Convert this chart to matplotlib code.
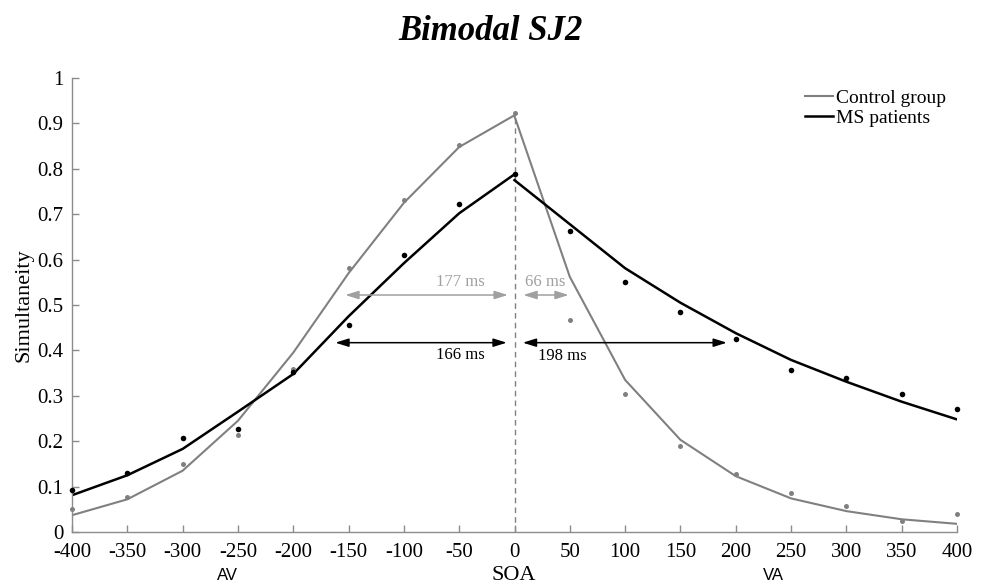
import matplotlib
matplotlib.use("Agg")
import matplotlib.pyplot as plt
import numpy as np

# ---- data ----
soa = [-400, -350, -300, -250, -200, -150, -100, -50, 0, 50, 100, 150, 200, 250, 300, 350, 400]
control_obs = [0.050, 0.077, 0.150, 0.213, 0.360, 0.582, 0.731, 0.852, 0.922,
               0.468, 0.303, 0.189, 0.128, 0.085, 0.058, 0.025, 0.040]
ms_obs = [0.092, 0.131, 0.206, 0.226, 0.352, 0.456, 0.610, 0.722, 0.789,
          0.664, 0.550, 0.484, 0.426, 0.357, 0.340, 0.305, 0.270]

soa_left = [-400, -350, -300, -250, -200, -150, -100, -50, 0]
soa_right = [0, 50, 100, 150, 200, 250, 300, 350, 400]
control_fit_left = [0.037, 0.072, 0.135, 0.245, 0.395, 0.570, 0.725, 0.848, 0.918]
control_fit_right = [0.916, 0.562, 0.335, 0.203, 0.123, 0.074, 0.046, 0.028, 0.018]
ms_fit_left = [0.081, 0.125, 0.183, 0.265, 0.348, 0.475, 0.592, 0.702, 0.788]
ms_fit_right = [0.775, 0.678, 0.581, 0.505, 0.438, 0.379, 0.331, 0.287, 0.248]

# window arrows: (start, end, y, label, label_x, label_y)
control_windows = [(-6, -153, 0.522, "177 ms", -49, 0.551),
                   (8, 49, 0.522, "66 ms", 28, 0.551)]
ms_windows = [(-7, -162, 0.417, "166 ms", -49, 0.390),
              (7.5, 192, 0.417, "198 ms", 43, 0.387)]

xticks = list(range(-400, 401, 50))
yticks = [0, 0.1, 0.2, 0.3, 0.4, 0.5, 0.6, 0.7, 0.8, 0.9, 1]
ytick_labels = ["0", "0.1", "0.2", "0.3", "0.4", "0.5", "0.6", "0.7", "0.8", "0.9", "1"]

GRAY = "#808080"
LGRAY = "#a0a0a0"
SPINE = "#8c8c8c"
SERIF = "Liberation Serif"

W, H = 983, 586
fig = plt.figure(figsize=(W / 100, H / 100), dpi=100)
ax = fig.add_axes([72 / W, 1 - 532 / H, (957 - 72) / W, (532 - 78) / H])

ax.plot(soa_left, control_fit_left, color=GRAY, lw=1.5, label="Control group")
ax.plot(soa_right, control_fit_right, color=GRAY, lw=1.5)
ax.plot(soa_left, ms_fit_left, color="black", lw=1.8, label="MS patients")
ax.plot(soa_right, ms_fit_right, color="black", lw=1.8)
ax.plot(soa, control_obs, "o", color=GRAY, ms=3.6, mew=0, zorder=4, clip_on=False)
ax.plot(soa, ms_obs, "o", color="black", ms=4, mew=0, zorder=4, clip_on=False)

ax.plot([0, 0], [0, 0.92], color=GRAY, lw=1, dashes=(4, 3), zorder=1)

for (x0, x1, y, lab, lx, ly), col in [(w, LGRAY) for w in control_windows] + [(w, "black") for w in ms_windows]:
    ax.annotate("", xy=(x1, y), xytext=(x0, y),
                arrowprops=dict(arrowstyle="<|-|>,head_length=0.8,head_width=0.25",
                                color=col, lw=1.1, shrinkA=0, shrinkB=0))
    ax.text(lx, ly, lab, color=col, fontsize=12, family=SERIF, ha="center", va="center")

ax.set_xlim(-400, 400)
ax.set_ylim(0, 1)
ax.set_xticks(xticks)
ax.set_xticklabels([str(t) for t in xticks])
ax.set_yticks(yticks)
ax.set_yticklabels(ytick_labels)
for s in ["top", "right"]:
    ax.spines[s].set_visible(False)
for s in ["left", "bottom"]:
    ax.spines[s].set_color(SPINE)
    ax.spines[s].set_linewidth(1.0)
ax.tick_params(direction="in", length=5, width=1, color=SPINE, labelsize=15)
ax.tick_params(axis="x", pad=8)
ax.tick_params(axis="y", pad=6)
for lbl in ax.get_xticklabels() + ax.get_yticklabels():
    lbl.set_family(SERIF)

leg = ax.legend(loc="upper left", bbox_to_anchor=(805 / W, 1 - 89 / H),
                bbox_transform=fig.transFigure, frameon=False, borderpad=0,
                borderaxespad=0, handlelength=1.45, handletextpad=0.12,
                labelspacing=0.15, prop={"family": SERIF, "size": 14})

fig.text(491 / W, 1 - 32 / H, "Bimodal SJ2", family=SERIF, fontsize=25,
         fontweight="bold", fontstyle="italic", ha="center", va="center")
fig.text(24 / W, 1 - 305 / H, "Simultaneity", family=SERIF, fontsize=16,
         rotation=90, ha="center", va="center")
fig.text(514 / W, 1 / H, "SOA", family=SERIF, fontsize=16,
         ha="center", va="bottom")
fig.text(227 / W, 1 - 580 / H, "AV", family="Liberation Sans", fontsize=12,
         ha="center", va="baseline")
fig.text(773 / W, 1 - 580 / H, "VA", family="Liberation Sans", fontsize=12,
         ha="center", va="baseline")

fig.savefig("out.png", dpi=100)
